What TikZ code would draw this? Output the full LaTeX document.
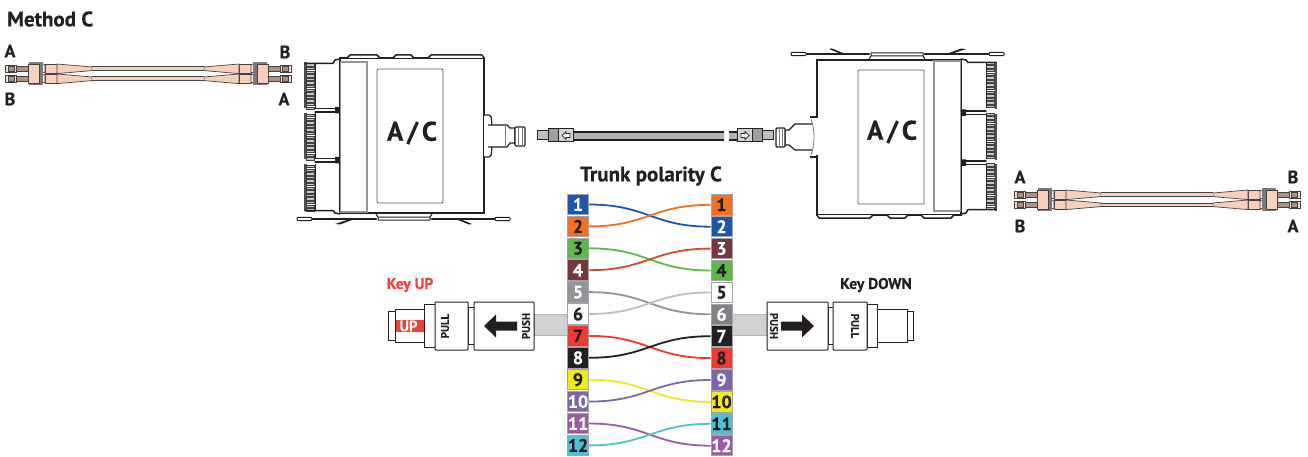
\documentclass[tikz,border=0pt]{standalone}
\usepackage{fontspec}
\setmainfont[BoldFont={PT Sans Bold},BoldFeatures={FakeBold=0.4}]{PT Sans}
\definecolor{ink}{HTML}{231F20}
\definecolor{salmon}{HTML}{F7CFBB}
\definecolor{cblue}{HTML}{1F57A8}
\definecolor{corange}{HTML}{F37021}
\definecolor{cgreen}{HTML}{5BB947}
\definecolor{cmaroon}{HTML}{76373C}
\definecolor{cgray}{HTML}{929497}
\definecolor{cdgray}{HTML}{808285}
\definecolor{cred}{HTML}{EE3A34}
\definecolor{cyellow}{HTML}{F2E81E}
\definecolor{cpurple}{HTML}{7F65AD}
\definecolor{cmagenta}{HTML}{9A5BA6}
\definecolor{ccyan}{HTML}{4FC0D6}
\definecolor{wred}{HTML}{CF4A2E}
\definecolor{wlight}{HTML}{BDBEC0}
\definecolor{keyred}{HTML}{EF4136}
\definecolor{band}{HTML}{D0D1D2}
\tikzset{
  lab/.style={font=\fontsize{18}{20}\selectfont\bfseries,text=ink,inner sep=0},
  headline/.style={font=\fontsize{21}{23}\selectfont\bfseries,text=ink,inner sep=0},
  keylab/.style={font=\fontsize{15.5}{17}\selectfont\bfseries,inner sep=0},
  panellab/.style={font=\fontsize{27}{29}\selectfont\bfseries,text=ink,inner sep=0},
  rot/.style={font=\fontsize{11}{13}\selectfont\bfseries,text=ink,inner sep=0},
  sq/.style={draw=cgray!85,line width=1pt,minimum width=21pt,minimum height=20.5pt,inner sep=0,font=\fontsize{18}{20}\selectfont\bfseries},
  wire/.style={line width=1.8pt},
  ol/.style={draw=ink,line width=1pt,fill=white},
  pc/.style={draw=ink!85,line width=0.7pt,fill=salmon},
  thick line/.style={draw=ink,line width=1.5pt,line cap=round,line join=round},
}
% one half of a duplex patch cord (left half; mirrored for the right)
\newcommand\cordhalf{%
  \foreach \yy in {68.8,78.8}{%
    \begin{scope}[shift={(0,\yy)}]
      \draw[pc,fill=salmon!70] (5,-3.8) rectangle (16,3.8);
      \draw[pc,fill=salmon!70!black] (8,-2.4) rectangle (14,2.4);
      \draw[pc,fill=salmon!70!black] (16,-2.8) rectangle (28,2.8);
      \draw[pc] (45,-4.8) rectangle (57,4.8);
      \draw[pc] (57,-4.8) -- (92,-1.8) -- (92,1.8) -- (57,4.8) -- cycle;
      \fill[salmon] (92,-1.8) rectangle (148.5,1.8);
      \draw[ink!85,line width=0.8pt] (92,-1.9) -- (148.5,-1.9) (92,1.9) -- (148.5,1.9);
      \draw[pc,fill=salmon!40] (39,-4) -- (42,-2.5) -- (39,-1) -- (42,0.5) -- (39,2) -- (42,3.5) -- (45,4) -- (45,-4) -- cycle;
    \end{scope}}
  \fill[ink!60] (29,62.4) rectangle (43,85.2);
  \draw[pc] (28,64) rectangle (39,83.6);
}
\newcommand\patchcord{%
  \cordhalf
  \begin{scope}[xshift=296pt,xscale=-1]\cordhalf\end{scope}
}
% one fibre module of the cassette: top edge y=0, bottom edge y=\h
\newcommand\cmodule[2]{%
  \begin{scope}[shift={(0,#1)}]
    \fill[ink!80] (304,-0.5) rectangle (306.5,#2.5);
    \pgfmathtruncatemacro\rows{int((#2-1)/3.6)}
    \foreach \k in {0,...,\rows}{%
      \draw[ink!85,fill=ink!25,line width=0.6pt] (306.5,{0.8+\k*3.6}) rectangle (314.5,{3.2+\k*3.6});
    }
    \draw[ink,line width=1pt] (315,0) -- (315,#2);
  \end{scope}
}
% the cassette, drawn as the left one; the right one is this, turned by 180 degrees
\newcommand\cassette{%
  \cmodule{63}{45}
  \cmodule{113.5}{45}
  \cmodule{164.5}{46}
  \draw[thick line] (305,63.5) -- (333,63.5) -- (335,60) -- (340,59);
  \draw[thick line] (305,210.5) -- (333,210.5) -- (335,213) -- (340,214);
  \draw[thick line] (315,108.5) -- (335,108.5) (315,112) -- (335,112);
  \draw[thick line] (315,158.5) -- (335,158.5) (315,162) -- (335,162);
  \fill[ink] (335,107) rectangle (341,113.5) (335,157) rectangle (341,163.5);
  % body
  \draw[ol,line width=1.2pt] (340,58) rectangle (484,213);
  \draw[draw=cgray,line width=1.1pt,fill=white] (340.5,62) rectangle (367,212);
  \draw[draw=ink!75,line width=0.9pt,rounded corners=1pt,fill=white] (377,69) rectangle (443,203);
  % bumps along the edge
  \draw[thick line,fill=white] (347,58) -- (350,55) -- (377,55) -- (380,58)
    (393,58) -- (396,55) -- (411,55) -- (414,58)
    (428,58) -- (431,55) -- (482,55) -- (484,58);
  % flange
  \draw[ink,line width=2.2pt,line cap=round] (303,219) -- (376,219) (432,219) -- (505,219);
  \draw[ink,line width=1pt,fill=white,rounded corners=1pt] (297,217.3) rectangle (312,220.7);
  \draw[ink,line width=1pt,fill=white,rounded corners=1pt] (495,217.3) rectangle (510,220.7);
  \draw[ink,line width=1pt] (376,214) -- (378,217) -- (430,217) -- (432,214) (378,217) -- (378,220) -- (430,220) -- (430,217);
  \fill[ink] (335,224) -- (350,219) -- (352,220) -- (340,224.5) -- cycle;
  \fill[ink] (472,224) -- (460,219) -- (458,220) -- (469,224.5) -- cycle;
}
\begin{document}
\begin{tikzpicture}[x=1pt,y=-1pt]
\useasboundingbox (0,0) rectangle (1308,457);

% ---- titles
\node[headline,anchor=west] (title) at (7,19) {Method C};
\node[headline] (trunk) at (651,176) {Trunk polarity C};

% ---- patch cords
\patchcord
\begin{scope}[shift={(1009,126)}]\patchcord\end{scope}
\node[lab] (a1) at (10,51) {A};
\node[lab] (b1) at (285,52) {B};
\node[lab] (b2) at (10,99) {B};
\node[lab] (a2) at (284,99) {A};
\node[lab] (a3) at (1020,177) {A};
\node[lab] (b3) at (1293,177) {B};
\node[lab] (b4) at (1020,226) {B};
\node[lab] (a4) at (1293,226) {A};

% ---- cassettes
\cassette
\begin{scope}[rotate around={180:(650.5,136.5)}]\cassette\end{scope}
\node[panellab] (pl) at (412,133) {\spaceskip=0.14em A / C};
\node[panellab] (pr) at (892,132) {\spaceskip=0.14em A / C};

% ---- left cassette rear connector
\draw[ol,rounded corners=2pt,line width=1.2pt] (484,115) -- (491,115) -- (492,125) -- (492,147) -- (491,157) -- (484,157);
\draw[ol,line width=1.2pt] (488,125) -- (507,125) -- (510,128) -- (515,128) -- (515,143) -- (510,143) -- (507,147) -- (488,147);
\draw[ol,rounded corners=1pt,line width=1.2pt] (515,127) rectangle (525,146);
\draw[ink!60,line width=0.6pt] (518,127) -- (518,146) (522,127) -- (522,146) (505,125) -- (505,147);

% ---- trunk
\fill[cgray!70] (573,132.5) rectangle (724,139.5);
\fill[cgray!70] (729,132.5) rectangle (737,139.5);
\draw[ink,line width=1.1pt] (573,132) -- (724,132) (573,140) -- (724,140) (729,132) -- (737,132) (729,140) -- (737,140);
% left plug
\draw[draw=ink,line width=1pt,fill=cgray!60] (537,131) rectangle (548,140);
\draw[draw=ink,line width=1pt,fill=cgray!90] (548,129) rectangle (558,142);
\draw[draw=ink,line width=1pt,fill=cgray!40] (558,129) rectangle (573,142);
\draw[draw=ink,line width=0.7pt,fill=white] (562,135.5) -- (566,131.5) -- (566,133.5) -- (570,133.5) -- (570,137.5) -- (566,137.5) -- (566,139.5) -- cycle;
% right plug
\draw[draw=ink,line width=1pt,fill=cgray!60] (762,131) rectangle (773,140);
\draw[draw=ink,line width=1pt,fill=cgray!90] (752,129) rectangle (762,142);
\draw[draw=ink,line width=1pt,fill=cgray!40] (737,129) rectangle (752,142);
\draw[draw=ink,line width=0.7pt,fill=white] (749,135.5) -- (745,131.5) -- (745,133.5) -- (741,133.5) -- (741,137.5) -- (745,137.5) -- (745,139.5) -- cycle;

% ---- right cassette rear connector
\draw[ink,line width=1.2pt,fill=white] (812,124) -- (795,124) -- (789,130) -- (785,130) -- (785,145) -- (789,145) -- (795,150) -- (812,150);
\draw[ol,rounded corners=1pt,line width=1.2pt] (776,128) rectangle (785,147);
\draw[ink!60,line width=0.6pt] (779,128) -- (779,147) (782,128) -- (782,147);
\draw[ink!60,line width=0.8pt] (811,119) .. controls (815,130) and (815,145) .. (811,155);
\draw[ink,line width=1.2pt] (810,117) -- (817,117) (810,157) -- (817,157);
\draw[white,line width=1.8pt] (817,118.5) -- (817,155.5);

% ---- grey cable stubs behind the fibre map
\draw[draw=cgray!70,line width=0.8pt,fill=band] (534,314) rectangle (568,335);
\draw[draw=cgray!70,line width=0.8pt,fill=band] (731,314) rectangle (767,335);

% ---- Key UP connector
\node[keylab,text=keyred] (keyup) at (410,285) {Key UP};
\draw[ol] (388,311) rectangle (395,340);
\draw[ol] (395,309) rectangle (424,342);
\fill[keyred] (396,320) rectangle (423.5,332);
\node[inner sep=0,text=white,font=\fontsize{15}{17}\selectfont\bfseries] (up) at (408.5,326) {UP};
\draw[ol] (424,304) rectangle (435,347);
\draw[ol] (468,307) rectangle (474,344);
\draw[ol,rounded corners=0.8pt] (435,302) rectangle (468,350);
\draw[ol,rounded corners=0.8pt] (474,302) rectangle (534,350);
\node[rot,rotate=90] (pull1) at (445,326) {PULL};
\node[rot,rotate=90] (push1) at (526,326) {PUSH};
\fill[ink] (484,326) -- (496,314.5) -- (496,321.5) -- (517,321.5) -- (517,330.5) -- (496,330.5) -- (496,337.5) -- cycle;

% ---- Key DOWN connector
\node[keylab,text=ink] (keydown) at (876,285) {Key DOWN};
\draw[ol] (907,311) rectangle (913,340);
\draw[ol] (877,309) rectangle (907,342);
\draw[ol] (867,304) rectangle (877,347);
\draw[ol] (828,307) rectangle (833,344);
\draw[ol,rounded corners=0.8pt] (833,302) rectangle (867,350);
\draw[ol,rounded corners=0.8pt] (767,302) rectangle (828,350);
\node[rot,rotate=-90] (pull2) at (855,326) {PULL};
\node[rot,rotate=-90] (push2) at (774,326) {PUSH};
\fill[ink] (814,326) -- (802,314.5) -- (802,321.5) -- (781,321.5) -- (781,330.5) -- (802,330.5) -- (802,337.5) -- cycle;

% ---- fibre map squares
\foreach \n/\c/\t in {1/cblue/white,2/corange/ink,3/cgreen/ink,4/cmaroon/white,5/cgray/white,6/white/ink,7/cred/ink,8/ink/white,9/cyellow/ink,10/cpurple/white,11/cmagenta/white,12/ccyan/ink}{%
  \node[sq,fill=\c,text=\t] (L\n) at (578,{204.5+21.9*(\n-1)}) {\n};
}
\foreach \n/\c/\t in {1/corange/ink,2/cblue/white,3/cmaroon/white,4/cgreen/ink,5/white/ink,6/cdgray/white,7/ink/white,8/cred/ink,9/cpurple/white,10/cyellow/ink,11/ccyan/ink,12/cmagenta/white}{%
  \node[sq,fill=\c,text=\t] (R\n) at (721.5,{204.8+21.9*(\n-1)}) {\n};
}
% ---- fibres
\foreach \a/\b/\c in {1/2/cblue,2/1/corange,3/4/cgreen,4/3/wred,5/6/cgray,6/5/wlight,7/8/cred,8/7/ink,9/10/cyellow,10/9/cpurple,11/12/cmagenta,12/11/ccyan}{%
  \draw[wire,draw=\c] (L\a.east) .. controls +(58,0) and +(-58,0) .. (R\b.west);
}
\end{tikzpicture}
\end{document}
